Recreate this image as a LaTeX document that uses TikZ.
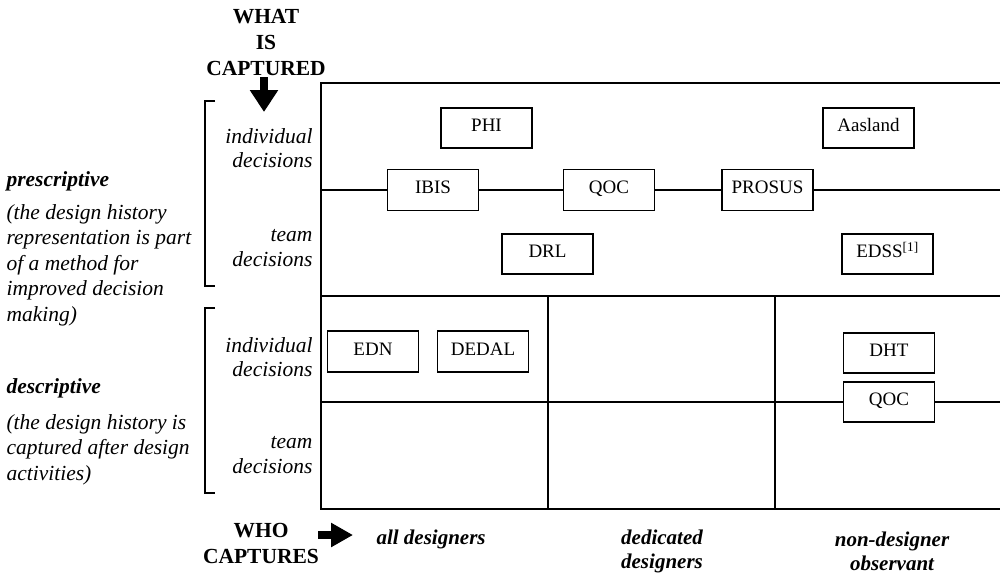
\documentclass[tikz,border=0pt]{standalone}
\usepackage{fontspec}
\setmainfont{Liberation Serif}
\usetikzlibrary{arrows.meta}
\begin{document}
\begin{tikzpicture}[x=1pt,y=-1pt,
  grid/.style={line width=1.3pt},
  sysbox/.style={draw,line width=1.5pt,fill=white,minimum width=91pt,minimum height=40pt,inner sep=0pt,
    font=\fontsize{19}{21}\selectfont,text height=12.6pt,text depth=5pt},
  rowlab/.style={align=right,anchor=east,font=\fontsize{21.5}{24.5}\selectfont\itshape},
  collab/.style={align=center,font=\fontsize{21}{24}\selectfont\bfseries\itshape},
  axislab/.style={align=center,font=\fontsize{21.5}{26}\selectfont\bfseries},
  groupname/.style={anchor=west,font=\fontsize{21.5}{25}\selectfont\bfseries\itshape},
  groupnote/.style={anchor=north west,align=left,font=\fontsize{21.5}{25.5}\selectfont\itshape},
  bigarrow/.style={line width=7.5pt,-{Triangle[width=27pt,length=22pt]}},
  brace/.style={line width=2.6pt}]
\useasboundingbox (0,0) rectangle (1000,573);

% grid frame
\draw[grid] (1000,83) -- (321,83) -- (321,509) -- (1000,509);
\draw[grid] (321,296) -- (1000,296);
\draw[grid] (321,402) -- (1000,402);
\draw[grid] (548,296) -- (548,509);
\draw[grid] (775,296) -- (775,509);

% prescriptive methods
\coordinate (rowL) at (321,190);
\coordinate (rowR) at (1000,190);
\node[sysbox] (phi) at (486.5,128) {PHI};
\node[sysbox] (aasland) at (868.5,128) {Aasland};
\node[sysbox,minimum height=41pt] (ibis) at (433,190) {IBIS};
\node[sysbox,minimum height=41pt] (qoc) at (609,190) {QOC};
\node[sysbox,minimum height=41pt] (prosus) at (767.5,190) {PROSUS};
\node[sysbox] (drl) at (547.5,254) {DRL};
\node[sysbox] (edss) at (887.5,254) {EDSS\textsuperscript{[1]}};
\draw[grid] (rowL) -- (ibis) -- (qoc) -- (prosus) -- (rowR);

% descriptive methods
\coordinate (lowL) at (775,402);
\coordinate (lowR) at (1000,402);
\node[sysbox,minimum height=41pt] (edn) at (373,351.5) {EDN};
\node[sysbox,minimum height=41pt] (dedal) at (483,351.5) {DEDAL};
\node[sysbox] (dht) at (889,353) {DHT};
\node[sysbox] (qoc2) at (889,402) {QOC};
\draw[grid] (lowL) -- (qoc2) -- (lowR);

% vertical axis
\node[axislab] (what) at (266,43) {WHAT\\IS\\CAPTURED};
\coordinate (whatTail) at (264,77);
\coordinate (whatTip) at (264,112);
\draw[bigarrow] (whatTail) -- (whatTip);

\node[rowlab] (r1) at (316,148) {individual\\decisions};
\node[rowlab] (r2) at (316,248) {team\\decisions};
\node[rowlab] (r3) at (316,357) {individual\\decisions};
\node[rowlab] (r4) at (316,455) {team\\decisions};

\draw[brace] (215,101) -- (205,101) -- (205,286) -- (215,286);
\draw[brace] (215,308) -- (205,308) -- (205,493) -- (215,493);

\node[groupname] (pre) at (3,181) {prescriptive};
\node[groupnote] (prenote) at (3,201) {(the design history\\representation is part\\of a method for\\improved decision\\making)};
\node[groupname] (des) at (3,388) {descriptive};
\node[groupnote] (desnote) at (3,411) {(the design history is\\captured after design\\activities)};

% horizontal axis
\node[axislab] (who) at (261,543) {WHO\\CAPTURES};
\coordinate (whoTail) at (318,535);
\coordinate (whoTip) at (353,535);
\draw[bigarrow,-{Triangle[width=23pt,length=22pt]}] (whoTail) -- (whoTip);
\node[collab,anchor=west] (c1) at (373,539) {all designers};
\node[collab] (c2) at (662,551) {dedicated\\designers};
\node[collab] (c3) at (892,551) {non-designer\\observant};
\end{tikzpicture}
\end{document}
